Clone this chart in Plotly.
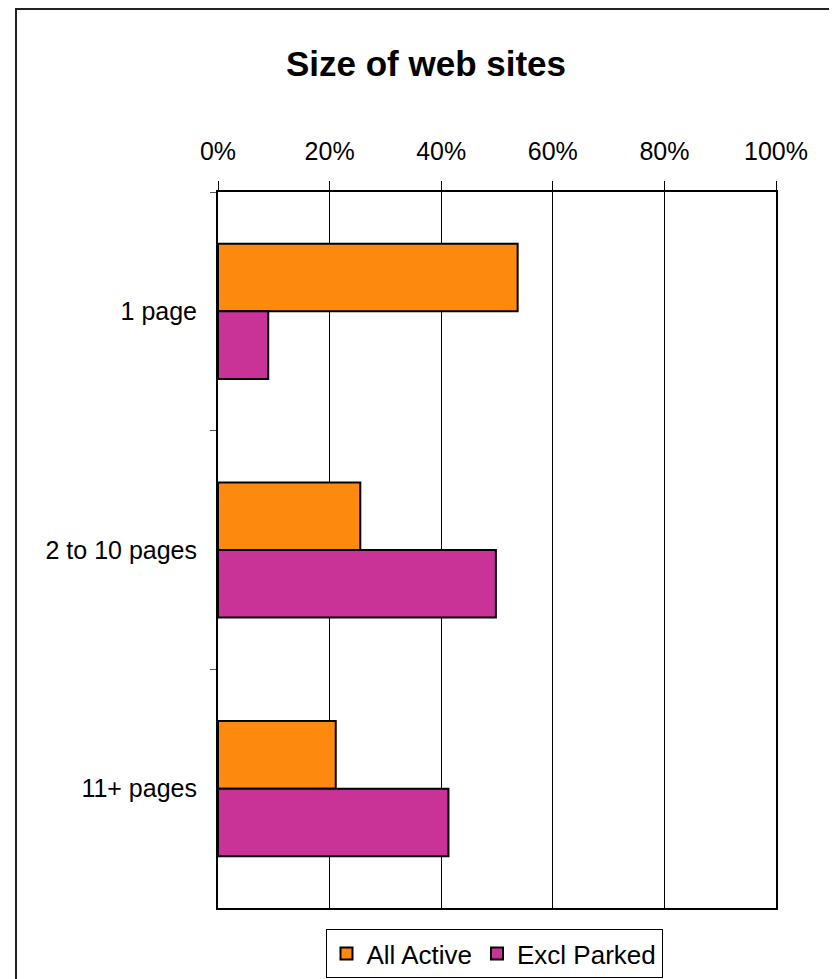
import plotly.graph_objects as go

categories = ["1 page", "2 to 10 pages", "11+ pages"]
all_active = [0.537, 0.255, 0.211]
excl_parked = [0.090, 0.498, 0.413]
x_ticks = [0, 0.2, 0.4, 0.6, 0.8, 1.0]
x_tick_labels = ["0%", "20%", "40%", "60%", "80%", "100%"]

FONT = "Liberation Sans, Arial, sans-serif"
OFF = 8  # page body margin offset
W, H = 837 - OFF, 979 - OFF

fig = go.Figure()
fig.add_trace(go.Bar(
    y=categories, x=all_active, orientation="h", name="All Active",
    marker=dict(color="#FD890E", line=dict(color="black", width=2)),
))
fig.add_trace(go.Bar(
    y=categories, x=excl_parked, orientation="h", name="Excl Parked",
    marker=dict(color="#C93397", line=dict(color="black", width=2)),
))

fig.update_layout(
    width=W, height=H,
    margin=dict(l=218 - OFF, r=61, t=192 - OFF, b=71, pad=0, autoexpand=False),
    paper_bgcolor="white", plot_bgcolor="white",
    barmode="group", bargap=0.434, bargroupgap=0,
    font=dict(family=FONT, color="black", size=24),
    title=dict(text="<b>Size of web sites</b>", x=(426 - OFF) / W, xanchor="center",
               y=1 - (64 - OFF) / H, yanchor="middle", yref="container",
               font=dict(size=35, family=FONT, color="black")),
    showlegend=True,
    legend=dict(orientation="h", x=(494 - OFF) / W, xanchor="center", xref="container",
                y=1 - (929 - OFF) / H, yanchor="top", yref="container",
                bordercolor="black", borderwidth=1, bgcolor="white",
                font=dict(size=26, family=FONT), traceorder="normal",
                itemwidth=30),
)

fig.update_xaxes(
    side="top", range=[0, 1], tickvals=x_ticks, ticktext=x_tick_labels,
    showgrid=True, gridcolor="black", gridwidth=1,
    showline=True, linecolor="black", linewidth=2, mirror=True,
    ticks="outside", ticklen=9, tickcolor="black", tickwidth=1,
    ticklabelstandoff=11, zeroline=False, fixedrange=True,
    tickfont=dict(size=25),
)
fig.update_yaxes(
    autorange="reversed", tickson="boundaries",
    showline=True, linecolor="black", linewidth=2, mirror=True,
    ticks="outside", ticklen=6, tickcolor="#555", tickwidth=1,
    ticklabelstandoff=14, showgrid=False, fixedrange=True,
    tickfont=dict(size=25),
)

# outer chart border
fig.add_shape(type="rect", xref="paper", yref="paper",
              x0=(16 - 218) / 558, x1=(833 - 218) / 558,
              y0=-0.2, y1=(908 - 9) / 716,
              line=dict(color="#222", width=2), fillcolor="rgba(0,0,0,0)", layer="below")

fig.write_html("out.html")
